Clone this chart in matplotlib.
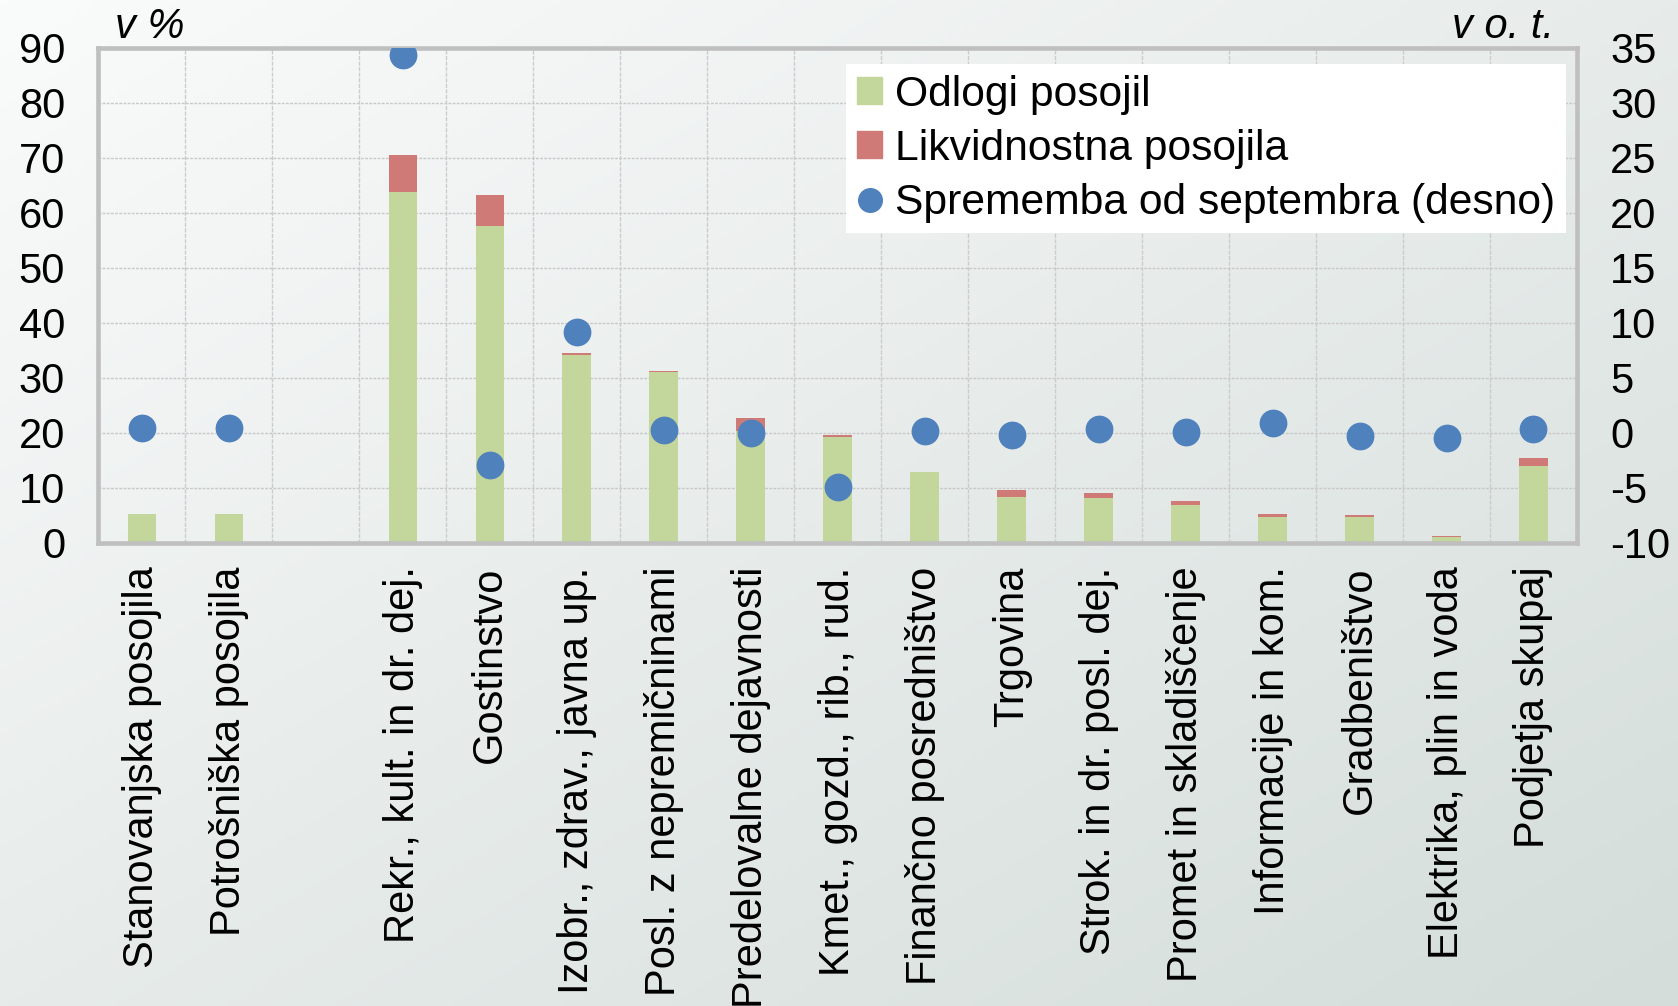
import numpy as np
import matplotlib.pyplot as plt
from matplotlib.patches import Patch
from matplotlib.lines import Line2D

plt.rcParams['font.family'] = ['Liberation Sans', 'DejaVu Sans']
plt.rcParams['axes.unicode_minus'] = False

categories = ['Stanovanjska posojila', 'Potrošniška posojila', '',
              'Rekr., kult. in dr. dej.', 'Gostinstvo', 'Izobr., zdrav., javna up.',
              'Posl. z nepremičninami', 'Predelovalne dejavnosti', 'Kmet., gozd., rib., rud.',
              'Finančno posredništvo', 'Trgovina', 'Strok. in dr. posl. dej.',
              'Promet in skladiščenje', 'Informacije in kom.', 'Gradbeništvo',
              'Elektrika, plin in voda', 'Podjetja skupaj']
odlogi = [5.2, 5.2, 0, 63.8, 57.7, 34.1, 31.0, 20.3, 19.3, 12.9, 8.3, 8.2, 6.9, 4.6, 4.6, 1.1, 14.0]
likvidnostna = [0, 0, 0, 6.7, 5.6, 0.5, 0.3, 2.4, 0.3, 0, 1.3, 0.8, 0.7, 0.6, 0.5, 0.1, 1.5]
sprememba = [0.45, 0.45, np.nan, 34.4, -2.9, 9.2, 0.25, 0.0, -4.9, 0.2, -0.2, 0.3, 0.05, 0.9, -0.3, -0.45, 0.35]
labels = ['Odlogi posojil', 'Likvidnostna posojila', 'Sprememba od septembra (desno)']

GREEN = '#C3D69B'
RED = '#D07A77'
BLUE = '#4F81BD'
FS = 30

fig = plt.figure(figsize=(16.78, 10.06), dpi=100)

# ozadje z gradientom
bg = fig.add_axes([0, 0, 1, 1], zorder=-10)
gx, gy = np.meshgrid(np.linspace(0, 1, 200), np.linspace(0, 1, 200))
t = (gx + gy) / 2
c0 = np.array([250, 251, 251]) / 255
c1 = np.array([212, 221, 218]) / 255
img = c0[None, None, :] * (1 - t[..., None]) + c1[None, None, :] * t[..., None]
bg.imshow(img, aspect='auto', extent=[0, 1, 0, 1], origin='upper')
bg.axis('off')

ax = fig.add_axes([0.0587, 0.4605, 0.8811, 0.4918])
ax.patch.set_alpha(0)
x = np.arange(len(categories))
ax.bar(x, odlogi, width=0.33, color=GREEN, zorder=2)
ax.bar(x, likvidnostna, width=0.33, bottom=odlogi, color=RED, zorder=2)

ax.set_xlim(-0.5, len(categories) - 0.5)
ax.set_ylim(0, 90)
ax.set_yticks(range(0, 91, 10))
ax.set_xticks(x)
ax.set_xticklabels(categories, rotation=90, fontsize=FS, va='top', ha='center')
ax.set_xticks(x[:-1] + 0.5, minor=True)
ax.grid(axis='y', color='#C8C8C8', linestyle=(0, (2, 1)), linewidth=1, zorder=0)
ax.grid(axis='x', which='minor', color='#CCCCCC', linestyle=(0, (3, 1)), linewidth=1, zorder=0)
ax.tick_params(axis='y', length=0, pad=24, labelsize=FS)
ax.tick_params(axis='x', which='both', length=0, pad=17)
for s in ax.spines.values():
    s.set_color('#BFBFBF')
    s.set_linewidth(3.3)

ax2 = ax.twinx()
ax2.plot(x, sprememba, linestyle='none', marker='o', markersize=19, color=BLUE, zorder=3)
ax2.set_ylim(-10, 35)
ax2.set_yticks(range(-10, 36, 5))
ax2.tick_params(axis='y', length=0, pad=24, labelsize=FS)
for s in ax2.spines.values():
    s.set_visible(False)

fig.text(115 / 1678, 1 - 27 / 1006, 'v %', fontsize=FS, style='italic', va='center', ha='left')
fig.text(1554 / 1678, 1 - 27 / 1006, 'v o. t.', fontsize=FS, style='italic', va='center', ha='right')

handles = [Patch(color=GREEN), Patch(color=RED),
           Line2D([], [], linestyle='none', marker='o', markersize=17, color=BLUE)]
leg = fig.legend(handles, labels, loc='upper right', bbox_to_anchor=(1566 / 1678, 1 - 64 / 1006),
                 fontsize=30.7, frameon=True, fancybox=False, framealpha=1, edgecolor='none',
                 borderaxespad=0, handlelength=0.6, handleheight=0.6, handletextpad=0.3,
                 labelspacing=0.33, borderpad=0.25)
leg.set_zorder(20)

fig.savefig('out.png', dpi=100)
